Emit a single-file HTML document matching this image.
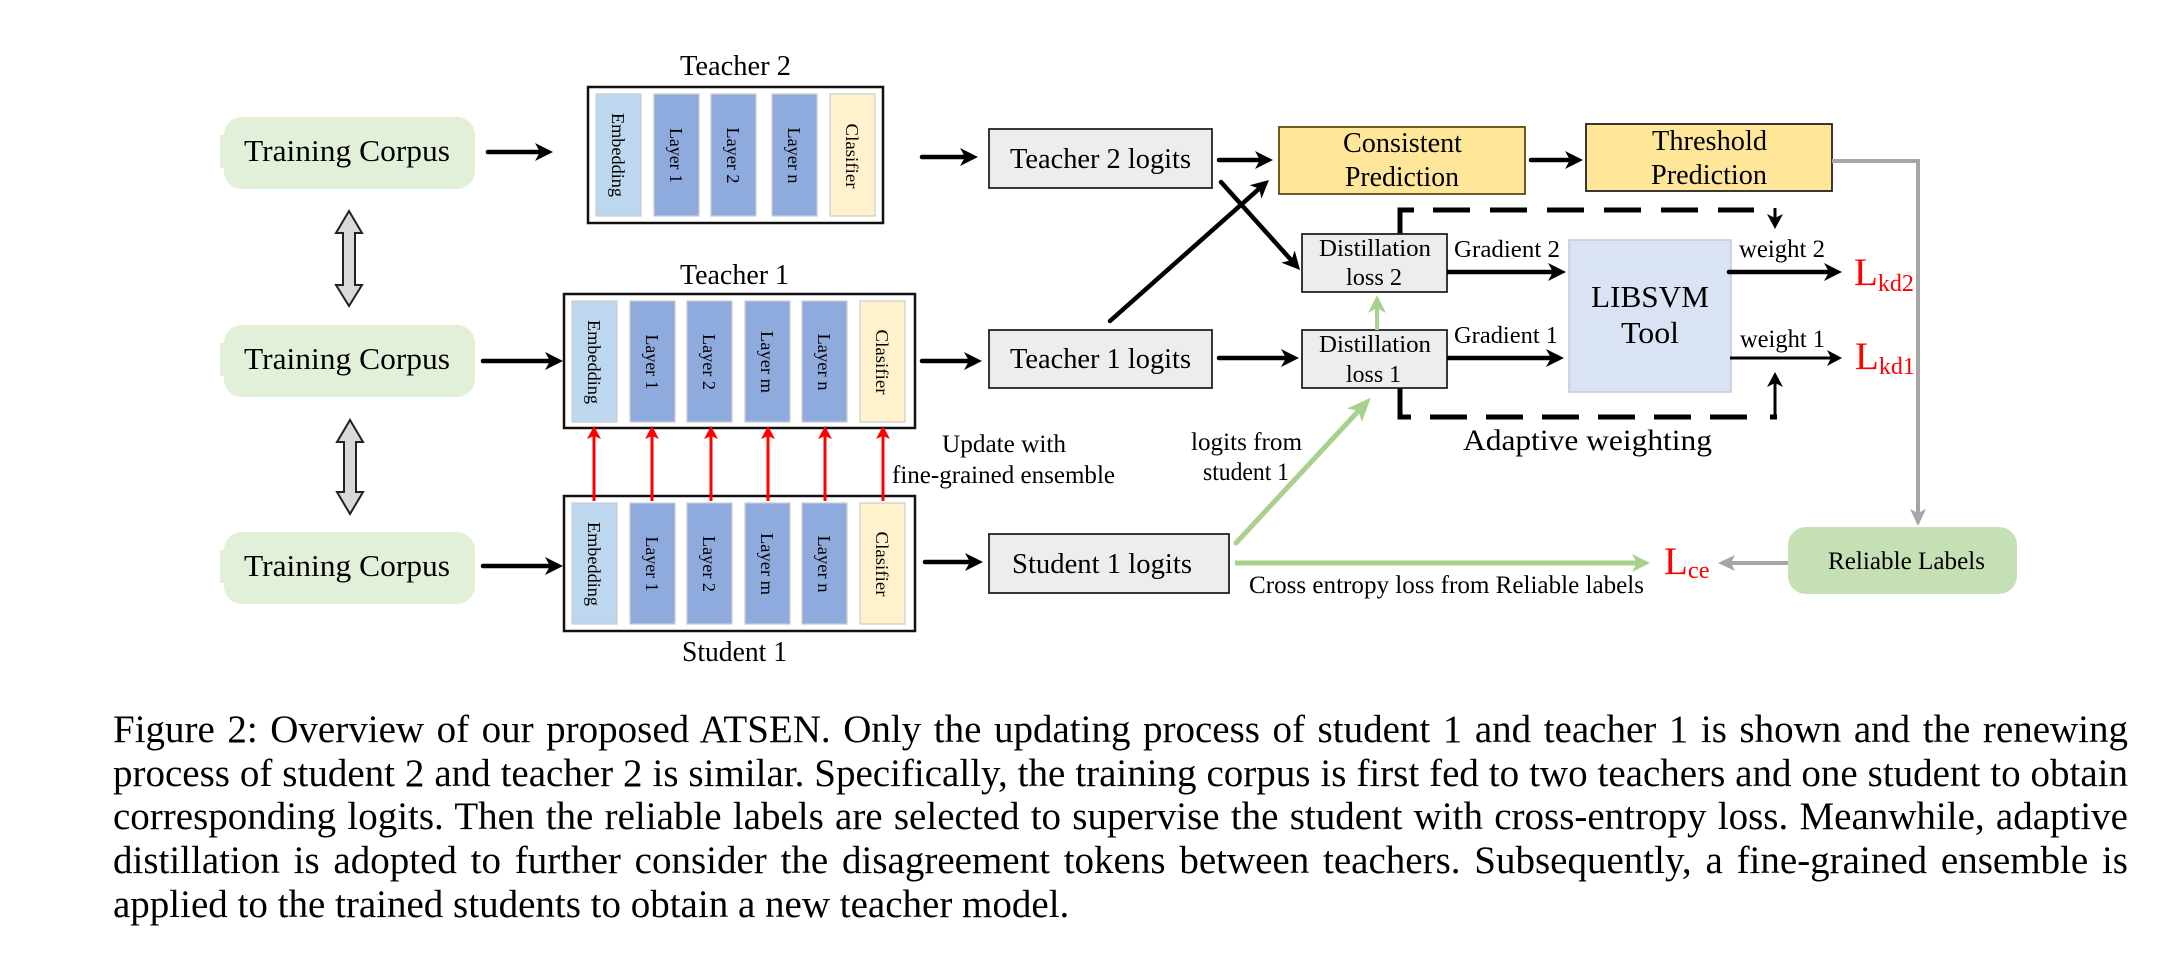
<!DOCTYPE html>
<html lang="en">
<head>
<meta charset="utf-8">
<title>ATSEN overview figure</title>
<style>
html,body{margin:0;padding:0;background:#fff;width:2167px;height:954px;overflow:hidden}
svg{position:absolute;left:0;top:0}
svg text{font-family:"Liberation Serif",serif;fill:#000}
.red{fill:#f00}
.rot{font-size:18px;text-anchor:middle}
.cap{position:absolute;left:113px;width:2015px;font:39px/40px "Liberation Serif",serif;word-spacing:-3px;color:#000;text-align:justify;text-align-last:justify}
.last{text-align-last:left;width:auto;white-space:nowrap;word-spacing:0}
</style>
</head>
<body>
<svg width="2167" height="954" viewBox="0 0 2167 954" xmlns="http://www.w3.org/2000/svg">
<defs>
<marker id="hb" markerUnits="userSpaceOnUse" markerWidth="20" markerHeight="20" refX="10" refY="9" orient="auto" overflow="visible"><path d="M0 0L18 9L0 18L5 9Z" fill="#000"/></marker>
<marker id="ht" markerUnits="userSpaceOnUse" markerWidth="18" markerHeight="18" refX="9" refY="8" orient="auto" overflow="visible"><path d="M0 0L15 8L0 16L4 8Z" fill="#000"/></marker>
<marker id="hr" markerUnits="userSpaceOnUse" markerWidth="16" markerHeight="16" refX="7" refY="7" orient="auto" overflow="visible"><path d="M0 0L13 7L0 14L3 7Z" fill="#f00"/></marker>
<marker id="hg" markerUnits="userSpaceOnUse" markerWidth="26" markerHeight="22" refX="14" refY="10" orient="auto" overflow="visible"><path d="M0 0L24 10L0 20L6 10Z" fill="#A9D18E"/></marker>
<marker id="hg2" markerUnits="userSpaceOnUse" markerWidth="20" markerHeight="20" refX="10" refY="9" orient="auto" overflow="visible"><path d="M0 0L18 9L0 18L5 9Z" fill="#A9D18E"/></marker>
<marker id="hy" markerUnits="userSpaceOnUse" markerWidth="20" markerHeight="20" refX="9" refY="8" orient="auto" overflow="visible"><path d="M0 0L17 8L0 16L4 8Z" fill="#A6A6A6"/></marker>
</defs>

<!-- Training corpus -->
<g>
<rect x="220" y="135" width="20" height="33" fill="#E2F0D9"/><rect x="224" y="117" width="251" height="72" rx="18" fill="#E2F0D9"/>
<text x="244" y="161" font-size="31" textLength="206" lengthAdjust="spacingAndGlyphs">Training Corpus</text></g>
<g>
<rect x="220" y="343" width="20" height="33" fill="#E2F0D9"/><rect x="224" y="325" width="251" height="72" rx="18" fill="#E2F0D9"/>
<text x="244" y="369" font-size="31" textLength="206" lengthAdjust="spacingAndGlyphs">Training Corpus</text></g>
<g>
<rect x="220" y="550" width="20" height="33" fill="#E2F0D9"/><rect x="224" y="532" width="251" height="72" rx="18" fill="#E2F0D9"/>
<text x="244" y="576" font-size="31" textLength="206" lengthAdjust="spacingAndGlyphs">Training Corpus</text></g>

<path d="M349 211L362 233L355 233L355 285L362 285L349 306L336 285L343 285L343 233L336 233Z" fill="#D9D9D9" stroke="#222" stroke-width="2"/>
<path d="M350 420L363 442L356 442L356 492L363 492L350 514L337 492L344 492L344 442L337 442Z" fill="#D9D9D9" stroke="#222" stroke-width="2"/>

<line x1="488" y1="152" x2="545" y2="152" stroke="#000" stroke-width="4.5" stroke-linecap="round" marker-end="url(#hb)"/>
<line x1="483" y1="361" x2="555" y2="361" stroke="#000" stroke-width="4.5" stroke-linecap="round" marker-end="url(#hb)"/>
<line x1="483" y1="566" x2="555" y2="566" stroke="#000" stroke-width="4.5" stroke-linecap="round" marker-end="url(#hb)"/>

<!-- Teacher 2 -->
<text x="680" y="75" font-size="28" textLength="111" lengthAdjust="spacingAndGlyphs">Teacher 2</text>
<rect x="588" y="87" width="295" height="136" fill="#fff" stroke="#111" stroke-width="2.5"/>
<g stroke="#ccc" stroke-width="1.2">
<rect x="596" y="94" width="45" height="122" fill="#BDD7EE"/>
<rect x="654" y="94" width="45" height="122" fill="#8FAADC"/>
<rect x="711" y="94" width="45" height="122" fill="#8FAADC"/>
<rect x="772" y="94" width="45" height="122" fill="#8FAADC"/>
<rect x="830" y="94" width="45" height="122" fill="#FFF2CC"/>
</g>
<text class="rot" transform="translate(612,155) rotate(90)" textLength="84" lengthAdjust="spacingAndGlyphs">Embedding</text>
<text class="rot" transform="translate(670,155.5) rotate(90)" textLength="55" lengthAdjust="spacingAndGlyphs">Layer 1</text>
<text class="rot" transform="translate(727,155.5) rotate(90)" textLength="56" lengthAdjust="spacingAndGlyphs">Layer 2</text>
<text class="rot" transform="translate(788,155.5) rotate(90)" textLength="56" lengthAdjust="spacingAndGlyphs">Layer n</text>
<text class="rot" transform="translate(846,156) rotate(90)" textLength="65" lengthAdjust="spacingAndGlyphs">Clasifier</text>

<!-- Teacher 1 -->
<text x="680" y="284" font-size="28" textLength="109" lengthAdjust="spacingAndGlyphs">Teacher 1</text>
<rect x="564" y="294" width="351" height="134" fill="#fff" stroke="#111" stroke-width="2.5"/>
<g stroke="#ccc" stroke-width="1.2">
<rect x="572" y="301" width="45" height="121" fill="#BDD7EE"/>
<rect x="630" y="301" width="45" height="121" fill="#8FAADC"/>
<rect x="687" y="301" width="45" height="121" fill="#8FAADC"/>
<rect x="745" y="301" width="45" height="121" fill="#8FAADC"/>
<rect x="802" y="301" width="45" height="121" fill="#8FAADC"/>
<rect x="860" y="301" width="45" height="121" fill="#FFF2CC"/>
</g>
<text class="rot" transform="translate(588,362) rotate(90)" textLength="84" lengthAdjust="spacingAndGlyphs">Embedding</text>
<text class="rot" transform="translate(646,362) rotate(90)" textLength="55" lengthAdjust="spacingAndGlyphs">Layer 1</text>
<text class="rot" transform="translate(703,362) rotate(90)" textLength="56" lengthAdjust="spacingAndGlyphs">Layer 2</text>
<text class="rot" transform="translate(761,362) rotate(90)" textLength="62" lengthAdjust="spacingAndGlyphs">Layer m</text>
<text class="rot" transform="translate(818,362) rotate(90)" textLength="57" lengthAdjust="spacingAndGlyphs">Layer n</text>
<text class="rot" transform="translate(876,362) rotate(90)" textLength="65" lengthAdjust="spacingAndGlyphs">Clasifier</text>

<!-- Student 1 -->
<rect x="564" y="496" width="351" height="135" fill="#fff" stroke="#111" stroke-width="2.5"/>
<g stroke="#ccc" stroke-width="1.2">
<rect x="572" y="503" width="45" height="121" fill="#BDD7EE"/>
<rect x="630" y="503" width="45" height="121" fill="#8FAADC"/>
<rect x="687" y="503" width="45" height="121" fill="#8FAADC"/>
<rect x="745" y="503" width="45" height="121" fill="#8FAADC"/>
<rect x="802" y="503" width="45" height="121" fill="#8FAADC"/>
<rect x="860" y="503" width="45" height="121" fill="#FFF2CC"/>
</g>
<text class="rot" transform="translate(588,564) rotate(90)" textLength="84" lengthAdjust="spacingAndGlyphs">Embedding</text>
<text class="rot" transform="translate(646,564) rotate(90)" textLength="55" lengthAdjust="spacingAndGlyphs">Layer 1</text>
<text class="rot" transform="translate(703,564) rotate(90)" textLength="56" lengthAdjust="spacingAndGlyphs">Layer 2</text>
<text class="rot" transform="translate(761,564) rotate(90)" textLength="62" lengthAdjust="spacingAndGlyphs">Layer m</text>
<text class="rot" transform="translate(818,564) rotate(90)" textLength="57" lengthAdjust="spacingAndGlyphs">Layer n</text>
<text class="rot" transform="translate(876,564) rotate(90)" textLength="65" lengthAdjust="spacingAndGlyphs">Clasifier</text>
<text x="682" y="661" font-size="28" textLength="105" lengthAdjust="spacingAndGlyphs">Student 1</text>

<!-- Red update arrows -->
<g stroke="#f00" stroke-width="3">
<line x1="594" y1="501" x2="594" y2="432" marker-end="url(#hr)"/>
<line x1="652" y1="501" x2="652" y2="432" marker-end="url(#hr)"/>
<line x1="711" y1="501" x2="711" y2="432" marker-end="url(#hr)"/>
<line x1="768" y1="501" x2="768" y2="432" marker-end="url(#hr)"/>
<line x1="825" y1="501" x2="825" y2="432" marker-end="url(#hr)"/>
<line x1="883" y1="501" x2="883" y2="432" marker-end="url(#hr)"/>
</g>
<text x="942" y="452" font-size="25" textLength="124" lengthAdjust="spacingAndGlyphs">Update with</text>
<text x="892" y="483" font-size="25.8" textLength="223" lengthAdjust="spacingAndGlyphs">fine-grained ensemble</text>

<!-- Logits boxes -->
<g>
<rect x="989" y="129" width="223" height="59" fill="#EDEDED" stroke="#222" stroke-width="1.8"/>
<text x="1010" y="168" font-size="28" textLength="181" lengthAdjust="spacingAndGlyphs">Teacher 2 logits</text></g>
<g>
<rect x="989" y="330" width="223" height="58" fill="#EDEDED" stroke="#222" stroke-width="1.8"/>
<text x="1010" y="368" font-size="28" textLength="181" lengthAdjust="spacingAndGlyphs">Teacher 1 logits</text></g>
<g>
<rect x="989" y="534" width="240" height="59" fill="#EDEDED" stroke="#222" stroke-width="1.8"/>
<text x="1012" y="573" font-size="28" textLength="180" lengthAdjust="spacingAndGlyphs">Student 1 logits</text></g>

<line x1="922" y1="157" x2="970" y2="157" stroke="#000" stroke-width="4.5" stroke-linecap="round" marker-end="url(#hb)"/>
<line x1="922" y1="361" x2="974" y2="361" stroke="#000" stroke-width="4.5" stroke-linecap="round" marker-end="url(#hb)"/>
<line x1="925" y1="562" x2="975" y2="562" stroke="#000" stroke-width="4.5" stroke-linecap="round" marker-end="url(#hb)"/>

<!-- Predictions -->
<g>
<rect x="1279" y="127" width="246" height="67" fill="#FFE699" stroke="#5c4a10" stroke-width="1.8"/>
<text x="1343" y="152" font-size="28" textLength="119" lengthAdjust="spacingAndGlyphs">Consistent</text>
<text x="1345" y="186" font-size="28" textLength="114" lengthAdjust="spacingAndGlyphs">Prediction</text></g>
<g>
<rect x="1586" y="124" width="246" height="67" fill="#FFE699" stroke="#222" stroke-width="1.8"/>
<text x="1652" y="150" font-size="28" textLength="115" lengthAdjust="spacingAndGlyphs">Threshold</text>
<text x="1651" y="184" font-size="28" textLength="116" lengthAdjust="spacingAndGlyphs">Prediction</text></g>
<line x1="1219" y1="160" x2="1265" y2="160" stroke="#000" stroke-width="4.5" stroke-linecap="round" marker-end="url(#hb)"/>
<line x1="1531" y1="160" x2="1575" y2="160" stroke="#000" stroke-width="4.5" stroke-linecap="round" marker-end="url(#hb)"/>
<line x1="1110" y1="321" x2="1263" y2="185.3" stroke="#000" stroke-width="4.5" stroke-linecap="round" marker-end="url(#hb)"/>
<line x1="1221" y1="182" x2="1294.7" y2="264" stroke="#000" stroke-width="4.5" stroke-linecap="round" marker-end="url(#hb)"/>
<line x1="1219" y1="358" x2="1291" y2="358" stroke="#000" stroke-width="4.5" stroke-linecap="round" marker-end="url(#hb)"/>

<!-- Dashed adaptive weighting -->
<path d="M1400 234V210H1414" fill="none" stroke="#000" stroke-width="5"/>
<line x1="1433" y1="210" x2="1754" y2="210" stroke="#000" stroke-width="5" stroke-dasharray="37 20"/>
<line x1="1775" y1="208" x2="1775" y2="223" stroke="#000" stroke-width="3" marker-end="url(#ht)"/>
<path d="M1400 388V417H1411" fill="none" stroke="#000" stroke-width="5"/>
<line x1="1430" y1="417" x2="1751" y2="417" stroke="#000" stroke-width="5" stroke-dasharray="37 19"/>
<rect x="1770" y="414.5" width="7" height="5" fill="#000"/>
<line x1="1775" y1="417" x2="1775" y2="378" stroke="#000" stroke-width="3" marker-end="url(#ht)"/>
<text x="1463" y="450" font-size="30" textLength="249" lengthAdjust="spacingAndGlyphs">Adaptive weighting</text>

<!-- Distillation boxes -->
<g>
<rect x="1302" y="234" width="145" height="58" fill="#EDEDED" stroke="#222" stroke-width="1.8"/>
<text x="1319" y="256" font-size="24" textLength="112" lengthAdjust="spacingAndGlyphs">Distillation</text>
<text x="1346" y="285" font-size="24" textLength="56" lengthAdjust="spacingAndGlyphs">loss 2</text></g>
<g>
<rect x="1302" y="330" width="145" height="58" fill="#EDEDED" stroke="#222" stroke-width="1.8"/>
<text x="1319" y="352" font-size="24" textLength="112" lengthAdjust="spacingAndGlyphs">Distillation</text>
<text x="1346" y="382" font-size="24" textLength="55" lengthAdjust="spacingAndGlyphs">loss 1</text></g>
<line x1="1377" y1="330" x2="1377" y2="303" stroke="#A9D18E" stroke-width="4" marker-end="url(#hg2)"/>

<text x="1454" y="257" font-size="24.5" textLength="106" lengthAdjust="spacingAndGlyphs">Gradient 2</text>
<text x="1454" y="343" font-size="24.5" textLength="104" lengthAdjust="spacingAndGlyphs">Gradient 1</text>
<line x1="1447" y1="272" x2="1558" y2="272" stroke="#000" stroke-width="4.5" marker-end="url(#hb)"/>
<line x1="1447" y1="358" x2="1556" y2="358" stroke="#000" stroke-width="4.5" marker-end="url(#hb)"/>

<!-- LIBSVM -->
<g>
<rect x="1569" y="240" width="162" height="152" fill="#DAE3F3" stroke="#c4cad6" stroke-width="1.5"/>
<text x="1591" y="307" font-size="31" textLength="118" lengthAdjust="spacingAndGlyphs">LIBSVM</text>
<text x="1621" y="343" font-size="31" textLength="58" lengthAdjust="spacingAndGlyphs">Tool</text></g>

<text x="1739" y="257" font-size="25" textLength="86" lengthAdjust="spacingAndGlyphs">weight 2</text>
<text x="1740" y="347" font-size="25" textLength="85" lengthAdjust="spacingAndGlyphs">weight 1</text>
<line x1="1729" y1="272" x2="1834" y2="272" stroke="#000" stroke-width="4.5" stroke-linecap="round" marker-end="url(#hb)"/>
<line x1="1730" y1="358" x2="1836" y2="358" stroke="#000" stroke-width="3" marker-end="url(#ht)"/>

<text class="red" x="1854" y="285" font-size="39">L<tspan font-size="24" dy="6" dx="0">kd2</tspan></text>
<text class="red" x="1855" y="369" font-size="39">L<tspan font-size="24" dy="5">kd1</tspan></text>
<text class="red" x="1664" y="574" font-size="39">L<tspan font-size="24.5" dy="4">ce</tspan></text>

<!-- Gray path and reliable labels -->
<path d="M1832 161H1918V518" fill="none" stroke="#A6A6A6" stroke-width="4" marker-end="url(#hy)"/>
<g>
<rect x="1788" y="527" width="229" height="67" rx="18" fill="#C5E0B4"/>
<text x="1828" y="569" font-size="25" textLength="157" lengthAdjust="spacingAndGlyphs">Reliable Labels</text></g>
<line x1="1788" y1="563" x2="1726" y2="563" stroke="#A6A6A6" stroke-width="4" marker-end="url(#hy)"/>

<!-- Green student arrows -->
<line x1="1236" y1="543" x2="1364" y2="405" stroke="#A9D18E" stroke-width="5" stroke-linecap="round" marker-end="url(#hg)"/>
<line x1="1235" y1="563" x2="1642" y2="563" stroke="#A9D18E" stroke-width="5" marker-end="url(#hg2)"/>
<text x="1191" y="450" font-size="25" textLength="111" lengthAdjust="spacingAndGlyphs">logits from</text>
<text x="1203" y="480" font-size="25" textLength="86" lengthAdjust="spacingAndGlyphs">student 1</text>
<text x="1249" y="593" font-size="25" textLength="395" lengthAdjust="spacingAndGlyphs">Cross entropy loss from Reliable labels</text>
</svg>

<div class="cap" style="top:710px">Figure 2: Overview of our proposed ATSEN. Only the updating process of student 1 and teacher 1 is shown and the renewing</div>
<div class="cap" style="top:754px">process of student 2 and teacher 2 is similar. Specifically, the training corpus is first fed to two teachers and one student to obtain</div>
<div class="cap" style="top:797px">corresponding logits. Then the reliable labels are selected to supervise the student with cross-entropy loss. Meanwhile, adaptive</div>
<div class="cap" style="top:841px">distillation is adopted to further consider the disagreement tokens between teachers. Subsequently, a fine-grained ensemble is</div>
<div class="cap last" style="top:885px">applied to the trained students to obtain a new teacher model.</div>
</body>
</html>
